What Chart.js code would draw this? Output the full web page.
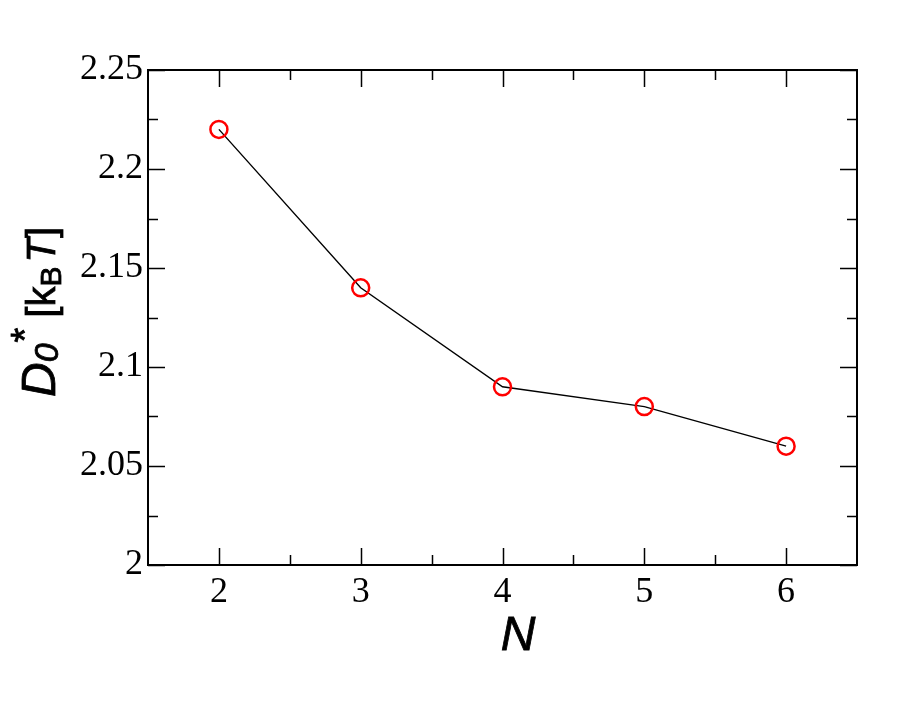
<!DOCTYPE html>
<html>
<head>
<meta charset="utf-8">
<script src="https://cdn.jsdelivr.net/npm/chart.js@4.4.0/dist/chart.umd.min.js"></script>
<style>
  body { margin: 0; background: #fff; }
  canvas { display: block; }
</style>
</head>
<body>
<canvas id="chart" width="911" height="706"></canvas>
<script>
// data
const nValues = [2, 3, 4, 5, 6];
const d0Values = [2.22, 2.14, 2.09, 2.08, 2.06];

// ticks
const xMajorTicks = [2, 3, 4, 5, 6];
const xMinorTicks = [2.5, 3.5, 4.5, 5.5];
const yMajorTicks = [2, 2.05, 2.1, 2.15, 2.2, 2.25];
const yMinorTicks = [2.025, 2.075, 2.125, 2.175, 2.225];

const points = nValues.map((n, i) => ({ x: n, y: d0Values[i] }));

// text drawn a bit heavier, like the original
function heavyText(ctx, t, x, y) {
  ctx.fillText(t, x, y);
  ctx.strokeText(t, x, y);
}

// ticks pointing inside, on all four sides, plus the frame
const frameTicks = {
  id: "frameTicks",
  afterDatasetsDraw(chart) {
    const ctx = chart.ctx;
    const a = chart.chartArea;
    const xs = chart.scales.x;
    const ys = chart.scales.y;
    const major = 17, minor = 10;
    ctx.save();
    ctx.strokeStyle = "#000";
    ctx.lineWidth = 1.5;
    ctx.beginPath();
    xMajorTicks.concat(xMinorTicks).forEach(v => {
      const len = xMajorTicks.includes(v) ? major : minor;
      const px = Math.round(xs.getPixelForValue(v)) + 0.5;
      ctx.moveTo(px, a.bottom); ctx.lineTo(px, a.bottom - len);
      ctx.moveTo(px, a.top); ctx.lineTo(px, a.top + len);
    });
    yMajorTicks.concat(yMinorTicks).forEach(v => {
      const len = yMajorTicks.includes(v) ? major : minor;
      const py = Math.round(ys.getPixelForValue(v)) + 0.5;
      ctx.moveTo(a.left, py); ctx.lineTo(a.left + len, py);
      ctx.moveTo(a.right, py); ctx.lineTo(a.right - len, py);
    });
    ctx.stroke();
    ctx.lineWidth = 2;
    ctx.strokeRect(a.left, a.top, a.right - a.left, a.bottom - a.top);
    ctx.restore();
  }
};

// axis titles: N below, D0* [kB T] on the left with sub/superscripts
const axisTitles = {
  id: "axisTitles",
  afterDraw(chart) {
    const ctx = chart.ctx;
    ctx.save();
    ctx.fillStyle = "#000";
    ctx.strokeStyle = "#000";
    ctx.lineWidth = 0.8;
    ctx.textBaseline = "alphabetic";

    ctx.font = "italic 48px 'Liberation Sans'";
    ctx.textAlign = "center";
    heavyText(ctx, "N", 518, 650);

    ctx.textAlign = "left";
    const parts = [
      { t: "D", font: "italic 48px 'Liberation Sans'", dy: 0, gap: 0 },
      { t: "0", font: "italic 34px 'Liberation Sans'", dy: 3, gap: 1 },
      { t: "*", font: "38px 'Liberation Sans'", dy: -17, gap: 10 },
      { t: "[k", font: "40px 'Liberation Sans'", dy: 0, gap: 0 },
      { t: "B", font: "30px 'Liberation Sans'", dy: 6, gap: 4 },
      { t: "T", font: "italic 40px 'Liberation Sans'", dy: 0, gap: 0 },
      { t: "]", font: "40px 'Liberation Sans'", dy: 0, gap: 0 }
    ];
    ctx.translate(55, 397);
    ctx.rotate(-Math.PI / 2);
    let x = 0;
    parts.forEach(p => {
      ctx.font = p.font;
      heavyText(ctx, p.t, x, p.dy);
      x += ctx.measureText(p.t).width + p.gap;
    });
    ctx.restore();
  }
};

new Chart(document.getElementById("chart"), {
  type: "scatter",
  data: {
    datasets: [{
      data: points,
      showLine: true,
      borderColor: "#000",
      borderWidth: 1.4,
      pointRadius: 8.5,
      pointHoverRadius: 8.5,
      pointBorderWidth: 2.5,
      pointBorderColor: "#ff0000",
      pointBackgroundColor: "rgba(0,0,0,0)"
    }]
  },
  options: {
    responsive: false,
    animation: false,
    layout: { padding: { left: 0, right: 54, top: 70, bottom: 0 } },
    plugins: { legend: { display: false }, tooltip: { enabled: false } },
    scales: {
      x: {
        type: "linear",
        min: 1.5,
        max: 6.5,
        afterBuildTicks: s => { s.ticks = xMajorTicks.map(v => ({ value: v })); },
        afterFit: s => { s.height = 141; },
        grid: { display: false, drawTicks: false },
        border: { display: false },
        ticks: {
          padding: 6,
          color: "#000",
          font: { family: "'Liberation Serif'", size: 36 },
          callback: v => String(v)
        }
      },
      y: {
        min: 2,
        max: 2.25,
        afterBuildTicks: s => { s.ticks = yMajorTicks.map(v => ({ value: v })); },
        afterFit: s => { s.width = 148; },
        grid: { display: false, drawTicks: false },
        border: { display: false },
        ticks: {
          padding: 5,
          color: "#000",
          font: { family: "'Liberation Serif'", size: 36 },
          callback: v => String(v)
        }
      }
    }
  },
  plugins: [frameTicks, axisTitles]
});
</script>
</body>
</html>
